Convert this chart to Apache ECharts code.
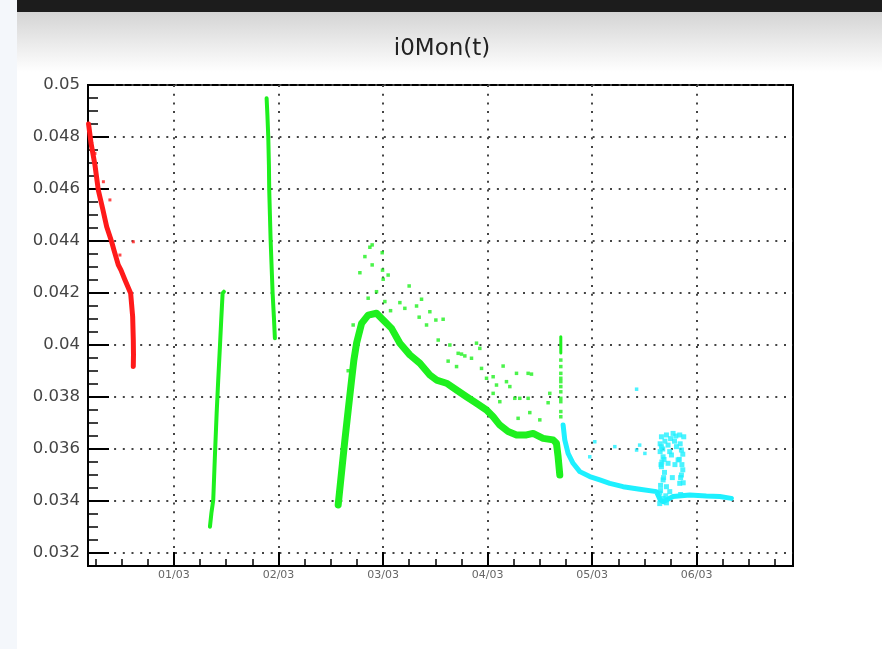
<!DOCTYPE html>
<html>
<head>
<meta charset="utf-8">
<script src="https://cdn.jsdelivr.net/npm/echarts@6/dist/echarts.min.js"></script>
<style>
  html, body { margin: 0; padding: 0; background: #ffffff; }
  #wrap { position: relative; width: 882px; height: 649px; overflow: hidden; }
  #strip { position: absolute; left: 0; top: 0; width: 17px; height: 649px; background: #f4f7fb; }
  #bar { position: absolute; left: 17px; top: 0; width: 865px; height: 12px; background: #1c1c1c; }
  #fade { position: absolute; left: 17px; top: 12px; width: 865px; height: 60px; background: linear-gradient(#d4d4d4, #ffffff); }
  #chart { position: absolute; left: 0; top: 0; width: 882px; height: 649px; }
</style>
</head>
<body>
<div id="wrap">
  <div id="strip"></div>
  <div id="bar"></div>
  <div id="fade"></div>
  <div id="chart"></div>
</div>
<script>
// ---- axis ticks (hours relative to 01/03 00:00) ----
const xTickHours = [0, 24, 48, 72, 96, 120];
const xTickLabels = ['01/03', '02/03', '03/03', '04/03', '05/03', '06/03'];
const yTickValues = [0.032, 0.034, 0.036, 0.038, 0.04, 0.042, 0.044, 0.046, 0.048, 0.05];

// ---- red run ----
const redHours  = [-19.6, -19.04, -18.13, -17.37, -16.4, -15.44, -14.3, -13.77, -12.78, -12.16, -11.24, -9.94, -9.48, -9.33, -9.29, -9.33];
const redValues = [0.0485, 0.04777, 0.04692, 0.04596, 0.04527, 0.04455, 0.04397, 0.04365, 0.04308, 0.04288, 0.0425, 0.04199, 0.04109, 0.04019, 0.03962, 0.03917];
const redOutHours  = [-18.13, -16.2, -14.7, -12.4, -9.33];
const redOutValues = [0.04737, 0.04628, 0.04558, 0.04346, 0.04397];

// ---- green runs ----
const greenAHours  = [8.26, 8.6, 9.02, 9.41, 9.8, 10.16, 10.55, 10.85, 11.17, 11.47];
const greenAValues = [0.03301, 0.03354, 0.03404, 0.03577, 0.03737, 0.03865, 0.03993, 0.04096, 0.04199, 0.04205];
const greenBHours  = [21.27, 21.45, 21.65, 21.8, 21.87, 22.03, 22.19, 22.42, 22.65, 22.95, 23.17];
const greenBValues = [0.04949, 0.04885, 0.04801, 0.04692, 0.04596, 0.045, 0.04404, 0.043, 0.04199, 0.04104, 0.04026];
const greenCHours  = [37.7, 39.24, 40.0, 40.77, 41.3, 41.92, 43.07, 44.58, 46.5, 48.03, 49.95, 51.86, 54.15, 56.45, 58.74, 60.28, 62.57, 64.87, 67.16, 69.45, 71.75, 73.27, 74.8, 76.71, 78.63, 80.93, 82.44, 84.74, 87.03, 87.8, 88.18, 88.57];
const greenCValues = [0.03385, 0.03635, 0.0375, 0.03865, 0.03942, 0.04007, 0.04083, 0.04115, 0.04122, 0.04096, 0.04064, 0.04007, 0.03962, 0.0393, 0.03885, 0.03865, 0.03853, 0.03827, 0.03801, 0.03776, 0.0375, 0.03724, 0.03692, 0.03667, 0.03654, 0.03654, 0.0366, 0.03641, 0.03635, 0.03622, 0.0357, 0.035];
const greenSpikeHours  = [88.8, 88.8];
const greenSpikeValues = [0.04032, 0.03969];
const greenOutHours  = [44.97, 45.5, 43.83, 42.68, 45.5, 47.8, 47.88, 49.17, 48.03, 46.5, 44.58, 48.41, 49.72, 51.86, 53.0, 53.99, 55.69, 56.83, 56.29, 58.74, 60.12, 61.79, 57.98, 60.66, 63.33, 65.24, 66.01, 66.77, 62.94, 64.87, 69.45, 70.21, 68.3, 70.6, 73.27, 71.75, 74.04, 75.56, 76.33, 77.1, 78.63, 81.3, 82.07, 78.24, 79.39, 81.3, 81.68, 79.0, 83.98, 86.27, 85.89, 73.27, 74.8, 41.14, 40.0, 39.24,
                        88.8, 88.8, 88.8, 88.8, 88.8, 88.8, 88.8, 88.8, 88.8, 88.8, 88.8];
const greenOutValues = [0.04376, 0.04385, 0.0434, 0.04278, 0.04308, 0.04355, 0.04288, 0.04269, 0.04253, 0.04205, 0.0418, 0.04167, 0.04132, 0.04163, 0.04141, 0.04227, 0.0415, 0.04176, 0.04107, 0.04128, 0.04096, 0.04099, 0.04077, 0.04019, 0.04, 0.03968, 0.03965, 0.03958, 0.03938, 0.03917, 0.04007, 0.03987, 0.03949, 0.0391, 0.03878, 0.03872, 0.03846, 0.03919, 0.03859, 0.0384, 0.03891, 0.03891, 0.03888, 0.03795, 0.03795, 0.03795, 0.0374, 0.03718, 0.03712, 0.03814, 0.03778, 0.03814, 0.03782, 0.04077, 0.03901, 0.0368,
                        0.03942, 0.03917, 0.03891, 0.03872, 0.03859, 0.0384, 0.0382, 0.03795, 0.03782, 0.03744, 0.03724];

// ---- cyan run ----
const cyanHours  = [89.33, 89.71, 90.47, 91.62, 93.16, 95.45, 97.75, 100.04, 103.1, 106.92, 110.76, 111.6, 112.3, 114.57, 118.4, 122.2, 125.3, 127.96];
const cyanValues = [0.03692, 0.03635, 0.03583, 0.03545, 0.03513, 0.03494, 0.03481, 0.03468, 0.03455, 0.03445, 0.03436, 0.03405, 0.03397, 0.03417, 0.03423, 0.03419, 0.03417, 0.0341];
const cyanClusterHours  = [111.9, 113.05, 114.57, 116.1, 117.02, 111.9, 113.42, 115.35, 116.49, 112.28, 114.2, 115.72, 111.9, 113.42, 116.49, 116.1, 112.28, 113.05, 111.51, 113.81, 111.51, 113.05, 112.7, 114.9, 111.6, 113.8, 112.0, 115.0, 112.6, 116.8, 111.7, 114.4, 112.9, 116.3,
                           111.6, 112.2, 112.5, 111.8, 112.4, 111.7, 112.3, 116.2, 116.8, 116.0, 116.6, 116.3, 116.9, 114.0, 115.2];
const cyanClusterValues = [0.03647, 0.03654, 0.0366, 0.03654, 0.03647, 0.03609, 0.03615, 0.03609, 0.03596, 0.0357, 0.03577, 0.03558, 0.03532, 0.03545, 0.035, 0.03468, 0.03481, 0.03455, 0.0343, 0.03436, 0.0339, 0.03393, 0.0363, 0.0363, 0.0359, 0.0359, 0.0355, 0.0354, 0.0351, 0.0352, 0.0346, 0.0349, 0.0342, 0.03425,
                           0.0362, 0.036, 0.0356, 0.0354, 0.0349, 0.0344, 0.0341, 0.0362, 0.0358, 0.0356, 0.0354, 0.0349, 0.0347, 0.0364, 0.0365];
const cyanOutHours  = [106.2, 96.6, 95.45, 101.2, 106.2, 106.9, 108.1];
const cyanOutValues = [0.0383, 0.03628, 0.0357, 0.03609, 0.03596, 0.03615, 0.03583];

const xMin = -19.73, xMax = 142.1;
const yMin = 0.0315, yMax = 0.05;

const zip = (a, b) => a.map((v, i) => [v, b[i]]);

// minor tick values (every 6 h / every 0.0005)
const xMinor = [];
for (let k = -4; k <= 24; k++) { const h = 6 * k; if (k % 4 !== 0 && h > xMin && h < xMax) xMinor.push(h); }
const yMinor = [];
for (let k = 64; k <= 100; k++) { if (k % 4 !== 0) yMinor.push(+(k * 0.0005).toFixed(5)); }

const RED = '#ff1a1a', GREEN = '#1ef01e', CYAN = '#1ef0ff';
const FONT = 'DejaVu Sans';

function lineSeries(h, v, color, w) {
  return { type: 'line', data: zip(h, v), showSymbol: false, symbol: 'none', silent: true,
    lineStyle: { color: color, width: w, cap: 'round', join: 'round' }, z: 3 };
}
function dotSeries(h, v, color, s) {
  return { type: 'scatter', data: zip(h, v), symbol: 'rect', symbolSize: s, silent: true,
    itemStyle: { color: color }, z: 3 };
}

const dotted = { color: '#444', width: 2, type: [2, 6.7] };

const chart = echarts.init(document.getElementById('chart'), null, { renderer: 'canvas' });
chart.setOption({
  animation: false,
  backgroundColor: 'transparent',
  title: {
    text: 'i0Mon(t)', left: 437, top: 33, textAlign: 'center',
    textStyle: { fontFamily: FONT, fontSize: 23, fontWeight: 'normal', color: '#222' }
  },
  grid: { left: 88, right: 89, top: 85, bottom: 83, show: true, borderColor: '#000', borderWidth: 2, backgroundColor: 'transparent' },
  xAxis: [
    {
      type: 'value', min: xMin, max: xMax, position: 'bottom',
      axisLine: { show: true, onZero: false, lineStyle: { color: '#000', width: 2 } },
      axisTick: { show: true, inside: true, length: 14, customValues: xTickHours, lineStyle: { color: '#000', width: 2 } },
      axisLabel: {
        show: true, customValues: xTickHours, margin: 4,
        fontFamily: FONT, fontSize: 11, color: '#666',
        formatter: v => xTickLabels[xTickHours.indexOf(v)] || ''
      },
      splitLine: { show: true, lineStyle: dotted }
    },
    {
      type: 'value', min: xMin, max: xMax, position: 'bottom',
      axisLine: { show: false, onZero: false },
      axisTick: { show: true, inside: true, length: 7, customValues: xMinor, lineStyle: { color: '#000', width: 1.5 } },
      axisLabel: { show: false },
      splitLine: { show: false }
    }
  ],
  yAxis: [
    {
      type: 'value', min: yMin, max: yMax, position: 'left',
      axisLine: { show: true, onZero: false, lineStyle: { color: '#000', width: 2 } },
      axisTick: { show: true, inside: true, length: 21, customValues: yTickValues, lineStyle: { color: '#000', width: 2 } },
      axisLabel: { show: true, customValues: yTickValues, margin: 8, fontFamily: FONT, fontSize: 16.5, color: '#444' },
      splitLine: { show: true, lineStyle: dotted }
    },
    {
      type: 'value', min: yMin, max: yMax, position: 'left',
      axisLine: { show: false, onZero: false },
      axisTick: { show: true, inside: true, length: 10, customValues: yMinor, lineStyle: { color: '#000', width: 1.5 } },
      axisLabel: { show: false },
      splitLine: { show: false }
    }
  ],
  series: [
    lineSeries(redHours, redValues, RED, 5),
    dotSeries(redOutHours, redOutValues, RED, 3),
    lineSeries(greenAHours, greenAValues, GREEN, 4),
    lineSeries(greenBHours, greenBValues, GREEN, 4),
    lineSeries(greenCHours, greenCValues, GREEN, 7),
    lineSeries(greenSpikeHours, greenSpikeValues, GREEN, 3),
    dotSeries(greenOutHours, greenOutValues, GREEN, 3.5),
    lineSeries(cyanHours, cyanValues, CYAN, 5),
    dotSeries(cyanClusterHours, cyanClusterValues, CYAN, 5),
    dotSeries(cyanOutHours, cyanOutValues, CYAN, 3.5)
  ]
});
</script>
</body>
</html>
